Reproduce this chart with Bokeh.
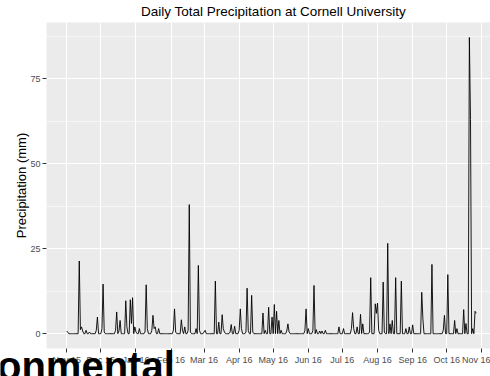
import pandas as pd
from bokeh.plotting import figure
from bokeh.models import (Range1d, FixedTicker, MonthsTicker, DatetimeTickFormatter, Label)
from bokeh.embed import file_html
from bokeh.resources import INLINE

# Daily record runs from the first to the last date; days not listed had no precipitation
first_day = "2015-11-01"
last_day = "2016-10-27"

wet_days = [
    "2015-11-01", "2015-11-02", "2015-11-12", "2015-11-13", "2015-11-14", "2015-11-15",
    "2015-11-18", "2015-11-21", "2015-11-27", "2015-11-28", "2015-12-02", "2015-12-03",
    "2015-12-04", "2015-12-14", "2015-12-15", "2015-12-17", "2015-12-18", "2015-12-23",
    "2015-12-24", "2015-12-27", "2015-12-28", "2015-12-29", "2015-12-31", "2016-01-01",
    "2016-01-04", "2016-01-09", "2016-01-10", "2016-01-11", "2016-01-15", "2016-01-16",
    "2016-01-17", "2016-01-18", "2016-01-21", "2016-02-03", "2016-02-04", "2016-02-05",
    "2016-02-10", "2016-02-11", "2016-02-13", "2016-02-16", "2016-02-17", "2016-02-18",
    "2016-02-23", "2016-02-25", "2016-02-26", "2016-03-01", "2016-03-02", "2016-03-11",
    "2016-03-14", "2016-03-17", "2016-03-18", "2016-03-19", "2016-03-24", "2016-03-25",
    "2016-03-28", "2016-04-01", "2016-04-02", "2016-04-03", "2016-04-07", "2016-04-08",
    "2016-04-09", "2016-04-12", "2016-04-13", "2016-04-22", "2016-04-24", "2016-04-27",
    "2016-04-30", "2016-05-02", "2016-05-04", "2016-05-06", "2016-05-08", "2016-05-13",
    "2016-05-14", "2016-05-15", "2016-05-29", "2016-05-30", "2016-06-01", "2016-06-05",
    "2016-06-06", "2016-06-08", "2016-06-11", "2016-06-13", "2016-06-16", "2016-06-28",
    "2016-07-02", "2016-07-09", "2016-07-10", "2016-07-11", "2016-07-14", "2016-07-17",
    "2016-07-19", "2016-07-25", "2016-07-26", "2016-07-30", "2016-07-31", "2016-08-01",
    "2016-08-02", "2016-08-06", "2016-08-07", "2016-08-10", "2016-08-12", "2016-08-14",
    "2016-08-17", "2016-08-22", "2016-08-26", "2016-08-29", "2016-09-01", "2016-09-09",
    "2016-09-10", "2016-09-18", "2016-09-28", "2016-09-29", "2016-10-02", "2016-10-08",
    "2016-10-10", "2016-10-16", "2016-10-18", "2016-10-21", "2016-10-22", "2016-10-24",
    "2016-10-26", "2016-10-27",
]

wet_mm = [
    0.8, 0.3, 21.4, 1.2, 2.0, 0.8,
    1.0, 0.5, 1.0, 4.9, 1.5, 14.6,
    0.5, 1.0, 6.4, 0.8, 3.9, 9.7,
    2.0, 10.0, 3.0, 10.6, 2.0, 0.5,
    1.5, 0.5, 14.4, 1.5, 1.0, 5.4,
    1.5, 2.0, 1.5, 1.0, 7.3, 0.5,
    4.1, 1.0, 2.0, 1.0, 38.0, 0.5,
    1.5, 20.1, 1.0, 0.5, 1.0, 15.5,
    3.4, 5.6, 1.5, 0.5, 0.5, 2.7,
    2.2, 1.0, 7.3, 1.5, 0.5, 13.4,
    1.0, 11.3, 0.5, 6.1, 1.0, 7.8,
    4.9, 8.6, 6.6, 3.9, 1.0, 0.8,
    2.9, 0.5, 1.0, 7.3, 1.5, 1.0,
    14.2, 1.2, 0.8, 0.8, 1.0, 2.0,
    1.5, 1.5, 6.2, 1.5, 2.0, 5.7,
    2.9, 0.5, 16.5, 8.8, 6.0, 9.0,
    1.0, 15.2, 0.5, 26.6, 2.9, 3.9,
    16.5, 15.5, 1.5, 2.0, 2.6, 12.2,
    4.4, 20.4, 1.0, 5.4, 17.4, 3.9,
    1.5, 7.1, 3.0, 87.2, 63.0, 1.5,
    6.6, 6.0,
]

y_ticks = [0, 25, 50, 75]
y_minor = [12.5, 37.5, 62.5, 87.5]

days = pd.date_range(first_day, last_day, freq="D")
precip = pd.Series(0.0, index=days)
precip.loc[pd.to_datetime(wet_days)] = wet_mm

# Canvas geometry: the drawing frame covers the whole canvas, the grey panel sits inside it
W, H = 490, 376
PX_PER_DAY = 1.134          # horizontal scale
PX_PER_MM = 3.397           # vertical scale
ORIGIN_X = 66.3             # pixel column of the first day
ZERO_Y = 333.2              # pixel row of 0 mm
PANEL_LEFT = 46             # left edge of the grey panel
y_lo, y_hi = -4.36, 91.6    # panel's value range

t0 = pd.Timestamp(first_day)
x_start = (t0 - pd.Timedelta(days=ORIGIN_X / PX_PER_DAY)).floor("ms")
x_end = (x_start + pd.Timedelta(days=W / PX_PER_DAY)).floor("ms")
panel_left = (x_start + pd.Timedelta(days=PANEL_LEFT / PX_PER_DAY)).floor("ms")
y_top = ZERO_Y / PX_PER_MM
y_bottom = -(H - ZERO_Y) / PX_PER_MM
panel_left_ms = panel_left.value / 1e6
x_end_ms = x_end.value / 1e6

p = figure(
    width=W, height=H,
    x_axis_type="datetime",
    x_range=Range1d(x_start.to_pydatetime(), x_end.to_pydatetime()),
    y_range=Range1d(y_bottom, y_top),
    output_backend="svg", toolbar_location=None, title_location=None,
    min_border=0, min_border_left=0, min_border_right=0,
    min_border_top=0, min_border_bottom=0,
    background_fill_color="white", border_fill_color="white",
    outline_line_color=None,
)

# grey plotting panel
p.quad(left=[panel_left], right=[x_end], bottom=[y_lo], top=[y_hi],
       fill_color="#EBEBEB", line_color=None, level="image")

# axes pinned to the panel edges
for ax in (p.xaxis[0], p.yaxis[0]):
    ax.axis_line_color = None
    ax.major_tick_line_color = "#333333"
    ax.major_tick_in = 0
    ax.major_tick_out = 4
    ax.minor_tick_line_color = None
    ax.major_label_text_color = "#4D4D4D"
    ax.major_label_text_font = "Liberation Sans"
    ax.major_label_text_font_size = "9px"
    ax.major_label_standoff = 2

p.yaxis.fixed_location = panel_left_ms
p.yaxis.bounds = (y_lo, y_hi)
p.yaxis.ticker = FixedTicker(ticks=y_ticks, minor_ticks=y_minor)
p.yaxis.axis_label = "Precipitation (mm)"
p.yaxis.axis_label_text_font = "Liberation Sans"
p.yaxis.axis_label_text_font_size = "13px"
p.yaxis.axis_label_text_font_style = "normal"
p.yaxis.axis_label_text_color = "black"
p.yaxis.axis_label_standoff = -2

p.xaxis.fixed_location = y_lo
p.xaxis.bounds = (panel_left_ms, x_end_ms)
p.xaxis.ticker = MonthsTicker(months=list(range(12)))
p.xaxis.formatter = DatetimeTickFormatter(days="%b %y", months="%b %y", years="%b %y")

p.xgrid.grid_line_color = "white"
p.xgrid.grid_line_width = 1.1
p.ygrid.grid_line_color = "white"
p.ygrid.grid_line_width = 1.1
p.ygrid.minor_grid_line_color = "white"
p.ygrid.minor_grid_line_width = 0.55

p.line(x=precip.index, y=precip.values, line_color="black", line_width=0.9)

# chart title above the panel
p.add_layout(Label(
    x=273, y=H - 11, x_units="screen", y_units="screen",
    text="Daily Total Precipitation at Cornell University",
    text_font="Liberation Sans", text_font_size="13.5px", text_color="black",
    text_align="center", text_baseline="middle",
))

# large heading running across the bottom edge
p.add_layout(Label(
    x=-3.5, y=H - 365.1, x_units="screen", y_units="screen",
    text="onmental", text_font="Liberation Sans", text_font_style="bold",
    text_font_size="40px", text_color="black", text_baseline="middle",
))

open("out.html", "w").write(file_html(p, INLINE))
